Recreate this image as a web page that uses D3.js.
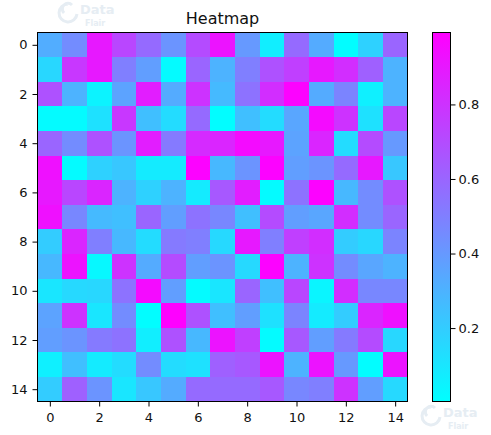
<!DOCTYPE html>
<html lang="en">
<head>
  <meta charset="UTF-8" />
  <title>Heatmap</title>
  <script src="https://cdn.jsdelivr.net/npm/d3@7"></script>
  <style>
    html, body { margin: 0; padding: 0; background: #fff; }
    svg { display: block; }
    text { font-family: "DejaVu Sans", sans-serif; fill: #111; }
    .mark { fill: #e6edf3; font-weight: bold; }
  </style>
</head>
<body>
<script>
  // one list per row
  const row0 = [0.32, 0.45, 0.90, 0.72, 0.58, 0.42, 0.70, 0.92, 0.40, 0.07, 0.58, 0.33, 0.01, 0.18, 0.60];
  const row1 = [0.16, 0.78, 0.90, 0.50, 0.38, 0.02, 0.60, 0.30, 0.50, 0.68, 0.75, 0.90, 0.82, 0.62, 0.30];
  const row2 = [0.68, 0.30, 0.05, 0.36, 0.88, 0.33, 0.80, 0.27, 0.55, 0.82, 0.98, 0.33, 0.48, 0.06, 0.30];
  const row3 = [0.02, 0.02, 0.12, 0.78, 0.25, 0.14, 0.58, 0.01, 0.25, 0.14, 0.35, 0.95, 0.80, 0.12, 0.72];
  const row4 = [0.60, 0.45, 0.68, 0.42, 0.88, 0.52, 0.83, 0.85, 0.95, 0.90, 0.36, 0.85, 0.14, 0.70, 0.40];
  const row5 = [0.93, 0.02, 0.18, 0.22, 0.08, 0.08, 0.98, 0.28, 0.42, 0.98, 0.38, 0.42, 0.58, 0.90, 0.22];
  const row6 = [0.90, 0.72, 0.85, 0.30, 0.18, 0.30, 0.08, 0.65, 0.88, 0.02, 0.55, 0.98, 0.28, 0.45, 0.68];
  const row7 = [0.93, 0.47, 0.27, 0.25, 0.60, 0.38, 0.55, 0.47, 0.25, 0.70, 0.38, 0.35, 0.82, 0.45, 0.60];
  const row8 = [0.20, 0.85, 0.50, 0.28, 0.14, 0.52, 0.50, 0.15, 0.90, 0.50, 0.75, 0.82, 0.20, 0.16, 0.48];
  const row9 = [0.28, 0.92, 0.03, 0.80, 0.33, 0.70, 0.38, 0.42, 0.15, 0.98, 0.30, 0.80, 0.45, 0.35, 0.30];
  const row10 = [0.10, 0.15, 0.16, 0.55, 0.95, 0.38, 0.02, 0.10, 0.60, 0.25, 0.72, 0.04, 0.82, 0.47, 0.47];
  const row11 = [0.36, 0.80, 0.10, 0.45, 0.01, 0.99, 0.68, 0.25, 0.38, 0.12, 0.48, 0.08, 0.20, 0.85, 0.93];
  const row12 = [0.38, 0.42, 0.52, 0.55, 0.07, 0.68, 0.28, 0.92, 0.75, 0.02, 0.65, 0.38, 0.52, 0.70, 0.16];
  const row13 = [0.06, 0.25, 0.08, 0.14, 0.45, 0.14, 0.12, 0.62, 0.65, 0.92, 0.30, 0.92, 0.40, 0.01, 0.92];
  const row14 = [0.20, 0.62, 0.42, 0.10, 0.22, 0.33, 0.58, 0.58, 0.58, 0.65, 0.47, 0.50, 0.80, 0.38, 0.15];
  const rows = [row0, row1, row2, row3, row4, row5, row6, row7, row8, row9, row10, row11, row12, row13, row14];

  const cellTicks = [0, 2, 4, 6, 8, 10, 12, 14];
  const barTicks = [0.2, 0.4, 0.6, 0.8];
  const valueRange = [0.003, 0.993];

  const svg = d3.select("body").append("svg").attr("width", 491).attr("height", 435);

  const x = d3.scaleLinear().domain([-0.5, 14.5]).range([37.5, 407.5]);
  const y = d3.scaleLinear().domain([-0.5, 14.5]).range([32.5, 401.5]);
  const barY = d3.scaleLinear().domain(valueRange).range([401.5, 32.5]);

  // matplotlib "cool"
  const cool = d3.scaleLinear().domain(valueRange).range(["#00ffff", "#ff00ff"]);

  // watermarks, behind the axes
  function watermark(px, py) {
    const g = svg.append("g").attr("transform", `translate(${px},${py})`);
    g.append("path")
      .attr("d", "M8,-16 A9,9 0 1,0 17,-6 M4,-7 A5,5 0 0,1 12,-15")
      .attr("fill", "none").attr("stroke", "#e6edf3").attr("stroke-width", 3);
    g.append("text").attr("class", "mark").attr("x", 20).attr("y", -6).style("font-size", "13px").text("Data");
    g.append("text").attr("class", "mark").attr("x", 25).attr("y", 5.5).style("font-size", "8px").text("Flair");
  }
  watermark(60, 20);
  watermark(423, 423);

  rows.forEach((row, r) => {
    svg.append("g").selectAll("rect")
      .data(row)
      .enter()
      .append("rect")
      .attr("x", (d, c) => x(c - 0.5))
      .attr("y", y(r - 0.5))
      .attr("width", (d, c) => x(c + 0.5) - x(c - 0.5))
      .attr("height", y(r + 0.5) - y(r - 0.5))
      .attr("fill", d => cool(d))
      .attr("shape-rendering", "crispEdges");
  });

  const xAxis = d3.axisBottom(x).tickValues(cellTicks).tickFormat(d3.format("d")).tickSize(5).tickPadding(6).tickSizeOuter(0);
  const yAxis = d3.axisLeft(y).tickValues(cellTicks).tickFormat(d3.format("d")).tickSize(5).tickPadding(5).tickSizeOuter(0);

  const xg = svg.append("g").attr("transform", "translate(0,401.5)").call(xAxis);
  const yg = svg.append("g").attr("transform", "translate(37.5,0)").call(yAxis);

  svg.append("rect")
    .attr("x", 37.5).attr("y", 32.5).attr("width", 370).attr("height", 369)
    .attr("fill", "none").attr("stroke", "#000");

  // colour bar
  const gradient = svg.append("defs").append("linearGradient")
    .attr("id", "bar-gradient")
    .attr("x1", 0).attr("y1", 1).attr("x2", 0).attr("y2", 0);
  gradient.selectAll("stop")
    .data(valueRange)
    .enter()
    .append("stop")
    .attr("offset", (d, i) => i)
    .attr("stop-color", d => cool(d));

  svg.append("rect")
    .attr("x", 432.5).attr("y", 32.5).attr("width", 18).attr("height", 369)
    .attr("fill", "url(#bar-gradient)")
    .attr("stroke", "#000");

  const barAxis = d3.axisRight(barY).tickValues(barTicks).tickFormat(d3.format(".1f")).tickSize(5).tickSizeOuter(0);
  const bg = svg.append("g").attr("transform", "translate(450.5,0)").call(barAxis);
  bg.select(".domain").remove();

  [xg, yg, bg].forEach(g => {
    g.selectAll("text").style("font-size", "13px").style("font-family", '"DejaVu Sans", sans-serif').attr("fill", "#111");
    g.selectAll(".tick line").attr("stroke", "#000");
  });
  xg.select(".domain").remove();
  yg.select(".domain").remove();

  svg.append("text")
    .attr("x", 222.5).attr("y", 24)
    .attr("text-anchor", "middle")
    .style("font-size", "16px")
    .text("Heatmap");
</script>
</body>
</html>
